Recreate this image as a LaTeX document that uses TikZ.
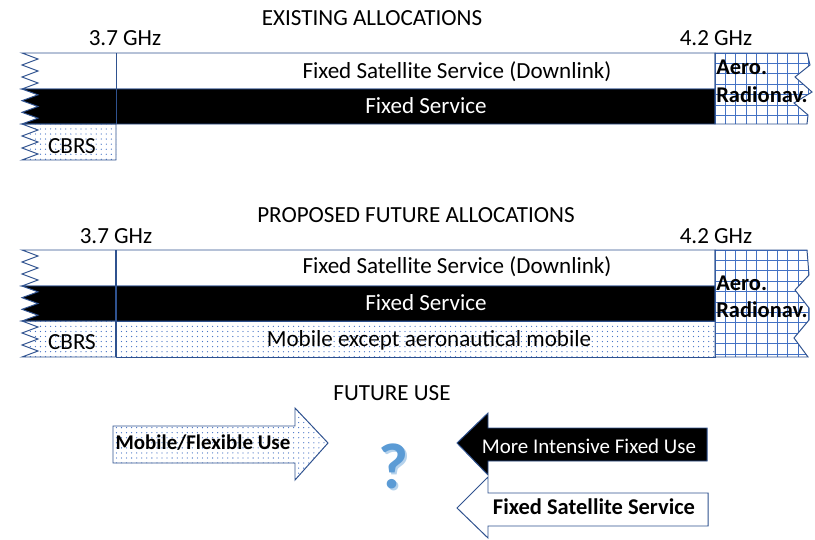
\documentclass[tikz,border=0pt]{standalone}
\usepackage{fontspec}
\setmainfont{Carlito}
\usetikzlibrary{positioning,patterns.meta}
\definecolor{edgeblue}{RGB}{47,82,143}
\definecolor{gridblue}{RGB}{68,114,196}
\definecolor{qblue}{RGB}{91,155,213}
\tikzdeclarepattern{
  name=sparsedots,
  type=uncolored,
  bounding box={(-.6pt,-.6pt) and (.6pt,.6pt)},
  tile size={(3.6pt,3.6pt)},
  code={\fill (0pt,0pt) circle [radius=0.45pt];}
}

\begin{document}
\begin{tikzpicture}[x=0.025cm,y=-0.025cm,
    band/.style={draw=edgeblue,line width=0.7pt},
    whiteband/.style={band,fill=white},
    blackband/.style={band,fill=black},
    dotband/.style={band,pattern=sparsedots,pattern color=gridblue},
    gridline/.style={draw=gridblue,line width=0.6pt},
    lbl/.style={font=\fontsize{16.4}{19}\selectfont,inner sep=0pt},
    blbl/.style={lbl,font=\fontsize{16}{19}\selectfont\bfseries},
    albl/.style={lbl,font=\fontsize{14.9}{18}\selectfont}
  ]
    \useasboundingbox (0,0) rectangle (815,539);
    % existing allocations
    \node[lbl] (title1) at (372,18) {EXISTING ALLOCATIONS};
    \foreach \ya/\yb/\xr/\sty in {53/89/715/whiteband,89/124/715/blackband,124/160/116/dotband}
      \path[\sty] (\xr,\ya) -- (22,\ya) \foreach \k in {1,...,6}{-- ({22+16*mod(\k,2)},{\ya+(\yb-\ya)*\k/6})} -- (\xr,\yb) -- cycle;
    \draw[band] (116,53) -- (116,124);
    \begin{scope}
      \clip (715,53) -- (807,53) -- (810,65) -- (795,77) -- (812,92) -- (794,103) -- (808,115) -- (807,124) -- (715,124) -- cycle;
      \fill[white] (715,53) rectangle (815,124);
      \foreach \g in {0,...,9} \draw[gridline] ({715+10.4*\g},53) -- ++(0,71);
      \foreach \g in {0,...,7} \draw[gridline] (715,{53+10.4*\g}) -- ++(100,0);
    \end{scope}
    \draw[band] (715,53) -- (807,53) -- (810,65) -- (795,77) -- (812,92) -- (794,103) -- (808,115) -- (807,124) -- (715,124) -- cycle;
    \node[lbl] (ghzA) at (125,38) {3.7 GHz};
    \node[lbl] (ghzB) at (716,38) {4.2 GHz};
    \node[lbl] (fss1) at (457,72) {Fixed Satellite Service (Downlink)};
    \node[lbl,text=white] (fs1) at (426,106) {Fixed Service};
    \node[lbl] (cbrs1) at (72,146) {CBRS};
    \node[blbl,anchor=west] (aero1) at (716,67) {Aero.};
    \node[blbl,anchor=west] (radio1) at (716,95) {Radionav.};
    % proposed future allocations
    \node[lbl] (title2) at (416,215) {PROPOSED FUTURE ALLOCATIONS};
    \foreach \ya/\yb/\xr/\sty in {250/286/715/whiteband,286/321/715/blackband,321/357/116/dotband}
      \path[\sty] (\xr,\ya) -- (22,\ya) \foreach \k in {1,...,6}{-- ({22+16*mod(\k,2)},{\ya+(\yb-\ya)*\k/6})} -- (\xr,\yb) -- cycle;
    \path[dotband] (116,321) rectangle (715,357);
    \draw[band,line width=1.4pt] (116,250) -- (116,357);
    \begin{scope}
      \clip (715,250) -- (807,250) -- (809,275) -- (795,290) -- (809,308) -- (809,320) -- (794,338) -- (808,357) -- (715,357) -- cycle;
      \fill[white] (715,250) rectangle (815,357);
      \foreach \g in {0,...,9} \draw[gridline] ({715+10.4*\g},250) -- ++(0,107);
      \foreach \g in {0,...,10} \draw[gridline] (715,{250+10.4*\g}) -- ++(100,0);
    \end{scope}
    \draw[band] (715,250) -- (807,250) -- (809,275) -- (795,290) -- (809,308) -- (809,320) -- (794,338) -- (808,357) -- (715,357) -- cycle;
    \node[lbl] (ghzC) at (116,236) {3.7 GHz};
    \node[lbl] (ghzD) at (716,236) {4.2 GHz};
    \node[lbl] (fss2) at (457,267) {Fixed Satellite Service (Downlink)};
    \node[lbl,text=white] (fs2) at (426,303) {Fixed Service};
    \node[lbl] (cbrs2) at (72,342) {CBRS};
    \node[lbl] (mob) at (429,340) {Mobile except aeronautical mobile};
    \node[blbl,anchor=west] (aero2) at (716,283) {Aero.};
    \node[blbl,anchor=west] (radio2) at (716,310) {Radionav.};
    % future use
    \node[lbl] (title3) at (392,393) {FUTURE USE};
    \path[dotband] (113,426) -- (295,426) -- (295,408) -- (328,443) -- (295,480) -- (295,463) -- (113,463) -- cycle;
    \path[blackband] (707,428) -- (488,428) -- (488,413) -- (457,443) -- (488,475) -- (488,461) -- (707,461) -- cycle;
    \path[whiteband] (708,493) -- (488,493) -- (488,477) -- (457,508) -- (488,538) -- (488,526) -- (708,526) -- cycle;
    \node[albl,font=\fontsize{14.9}{18}\selectfont\bfseries] (flex) at (203,443) {Mobile/Flexible Use};
    \node[albl,text=white] (fixed) at (589,446) {More Intensive Fixed Use};
    \node[blbl] (sat) at (594,507) {Fixed Satellite Service};
    \node[font=\fontsize{46}{46}\selectfont\bfseries,text=qblue!45] at (395,468) {?};
    \node[font=\fontsize{46}{46}\selectfont\bfseries,text=qblue] (quest) at (393,466) {?};
  \end{tikzpicture}
\end{document}
